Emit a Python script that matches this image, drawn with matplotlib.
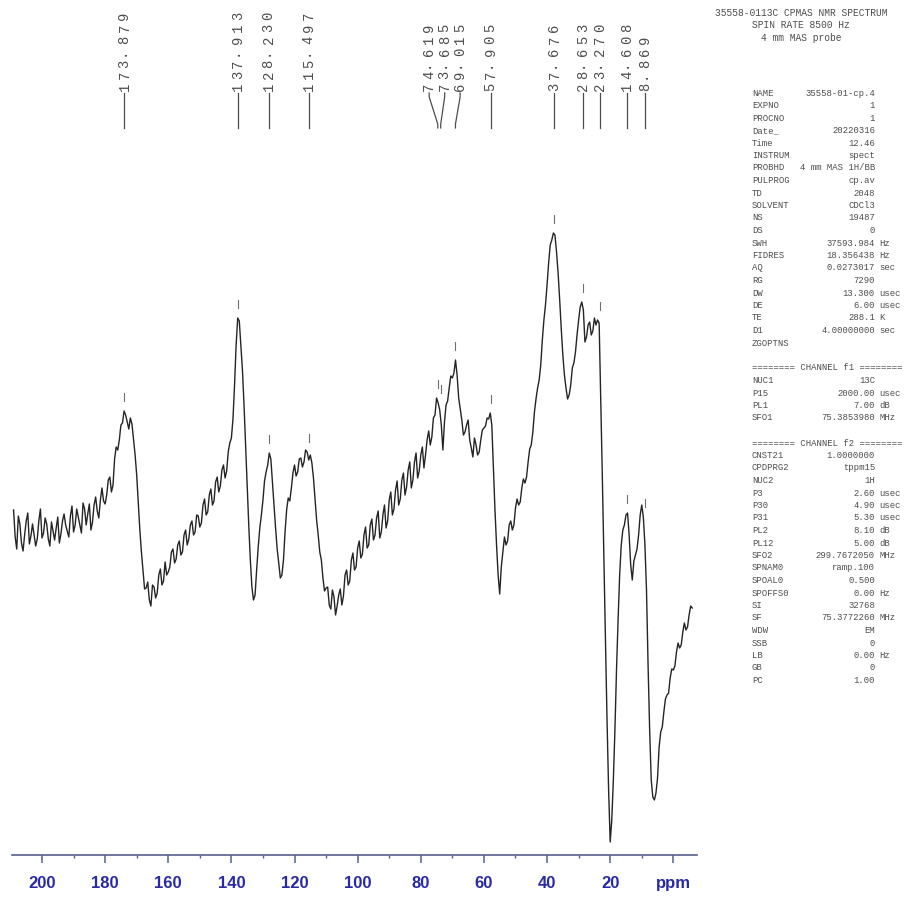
import numpy as np
import matplotlib
matplotlib.use("Agg")
import matplotlib.pyplot as plt
from matplotlib import transforms

# 13C CPMAS trace: values on whole ppm (209 .. -6) and on the half ppm
# points in between (208.5 .. -5.5)
intensity = [
    34.5, 30.6, 33.1, 30.4, 33.4, 31.1, 33.1, 30.9, 33.4, 31.7,   # 209..200
    33.7, 31.6, 33.3, 31.5, 33.8, 32.1, 34.1, 32.4, 33.9, 32.3,   # 199..190
    34.6, 33.0, 35.2, 33.0, 35.1, 33.3, 35.8, 33.7, 36.7, 35.1,   # 189..180
    37.5, 36.3, 39.6, 40.5, 43.0, 44.4, 43.3, 43.7, 41.5, 38.0,   # 179..170
    32.5, 28.5, 26.7, 25.5, 27.0, 25.7, 28.0, 27.0, 29.3, 28.3,   # 169..160
    30.3, 29.2, 31.0, 30.0, 32.0, 31.0, 33.0, 32.0, 34.0, 32.8,   # 159..150
    35.0, 34.0, 36.0, 35.0, 37.3, 36.3, 38.5, 37.7, 40.3, 41.7,   # 149..140
    47.0, 53.7, 51.0, 45.0, 37.0, 29.5, 25.5, 28.5, 32.7, 35.5,   # 139..130
    38.3, 40.2, 37.3, 32.7, 29.2, 28.0, 32.3, 35.7, 36.7, 39.0,   # 129..120
    38.3, 39.7, 39.3, 40.3, 40.0, 37.7, 33.5, 30.3, 27.7, 26.7,   # 119..110
    25.0, 26.5, 24.0, 26.0, 25.0, 28.0, 27.0, 29.5, 28.5, 30.7,   # 109..100
    29.7, 32.0, 30.7, 33.0, 31.5, 33.7, 31.7, 34.0, 32.7, 35.5,   # 99..90
    34.0, 36.5, 35.0, 37.5, 36.0, 38.5, 36.7, 39.3, 37.7, 40.0,   # 89..80
    38.7, 41.5, 41.0, 43.7, 45.7, 44.5, 40.5, 45.0, 46.7, 47.7,   # 79..70
    49.5, 45.7, 43.5, 42.3, 43.5, 40.7, 41.7, 40.0, 41.5, 42.7,   # 69..60
    43.7, 44.2, 38.7, 31.0, 26.1, 30.3, 31.0, 33.0, 32.5, 34.7,   # 59..50
    35.0, 36.7, 37.2, 39.3, 41.0, 44.3, 46.7, 49.0, 53.5, 57.0,   # 49..40
    61.0, 62.2, 60.3, 55.5, 50.0, 46.7, 46.0, 48.7, 50.3, 53.5,   # 39..30
    55.3, 51.3, 53.0, 52.0, 53.7, 53.5, 45.5, 29.5, 13.5, 1.3,    # 29..20
    7.5, 18.5, 28.0, 32.5, 34.0, 32.0, 27.5, 30.0, 32.0, 35.0,    # 19..10
    31.0, 19.0, 7.5, 5.5, 7.7, 12.3, 14.3, 16.0, 17.7, 18.5,      # 9..0
    20.3, 20.7, 22.3, 22.5, 24.0, 24.7,                           # -1..-6
]
intensity_half = [
    31.8, 33.9, 31.2, 32.0, 34.2, 31.9, 32.0, 31.6, 34.6, 32.2,   # 208.5..199.5
    33.1, 30.9, 32.4, 32.7, 31.2, 33.4, 33.0, 31.8, 34.9, 33.0,   # 198.5..189.5
    33.8, 32.2, 34.6, 34.1, 32.5, 35.0, 34.4, 35.5, 35.4, 36.0,   # 188.5..179.5
    37.8, 37.0, 40.8, 41.5, 43.2, 44.0, 42.6, 43.1, 40.0, 35.3,   # 178.5..169.5
    30.3, 26.6, 27.3, 24.9, 26.8, 26.2, 28.6, 27.4, 28.0, 28.8,   # 168.5..159.5
    30.6, 29.6, 31.4, 30.3, 32.5, 31.6, 33.4, 32.3, 33.9, 33.2,   # 158.5..149.5
    35.6, 34.3, 36.6, 35.4, 37.8, 36.9, 39.0, 38.4, 41.2, 43.6,   # 148.5..139.5
    51.0, 53.4, 48.5, 41.0, 33.0, 26.8, 26.0, 30.8, 34.0, 37.4,   # 138.5..129.5
    39.0, 39.6, 35.0, 30.6, 27.7, 29.5, 34.5, 35.4, 38.2, 37.9,   # 128.5..119.5
    39.6, 38.8, 40.5, 39.5, 39.2, 35.6, 32.0, 29.5, 26.4, 26.8,   # 118.5..109.5
    24.6, 25.8, 24.9, 26.6, 25.9, 28.5, 27.4, 30.2, 28.8, 31.4,   # 108.5..99.5
    30.1, 32.8, 31.0, 33.6, 32.0, 34.4, 32.3, 35.0, 33.4, 36.3,   # 98.5..89.5
    34.6, 37.4, 35.6, 38.2, 36.8, 39.3, 37.5, 40.2, 38.4, 40.8,   # 88.5..79.5
    40.0, 42.4, 41.8, 44.0, 45.2, 43.0, 43.3, 45.4, 47.9, 48.2,   # 78.5..69.5
    48.0, 44.6, 42.0, 43.0, 41.5, 39.8, 41.0, 40.3, 42.5, 42.9,   # 68.5..59.5
    43.6, 43.0, 34.5, 28.0, 28.8, 31.8, 31.4, 33.4, 33.0, 35.6,   # 58.5..49.5
    35.3, 37.6, 37.8, 40.6, 42.3, 45.6, 47.5, 51.5, 55.0, 59.2,   # 48.5..39.5
    61.5, 62.0, 58.2, 52.6, 48.0, 45.6, 47.0, 49.2, 52.0, 54.8,   # 38.5..29.5
    54.5, 51.8, 53.3, 52.4, 53.0, 53.2, 38.0, 21.5, 6.5, 3.5,     # 28.5..19.5
    12.5, 23.5, 31.0, 33.0, 34.2, 29.0, 29.4, 30.6, 34.0, 33.8,   # 18.5..9.5
    26.5, 12.5, 5.8, 6.2, 10.8, 12.8, 15.6, 16.2, 18.6, 18.9,     # 8.5..-0.5
    21.2, 21.0, 23.2, 22.8, 24.9,                                 # -1.5..-5.5
]

peak_shifts = [173.879, 137.913, 128.230, 115.497, 74.619, 73.685, 69.015,
               57.905, 37.676, 28.653, 23.270, 14.608, 8.869]

axis_ticks = [200, 180, 160, 140, 120, 100, 80, 60, 40, 20, 0]
axis_labels = ["200", "180", "160", "140", "120", "100", "80", "60", "40", "20", "ppm"]

header_lines = ["35558-0113C CPMAS NMR SPECTRUM", "SPIN RATE 8500 Hz", "4 mm MAS probe"]

param_names = [
    "NAME", "EXPNO", "PROCNO", "Date_", "Time", "INSTRUM", "PROBHD", "PULPROG",
    "TD", "SOLVENT", "NS", "DS", "SWH", "FIDRES", "AQ", "RG", "DW", "DE", "TE",
    "D1", "ZGOPTNS", "",
    "======== CHANNEL f1 ========", "NUC1", "P15", "PL1", "SFO1", "",
    "======== CHANNEL f2 ========", "CNST21", "CPDPRG2", "NUC2", "P3", "P30",
    "P31", "PL2", "PL12", "SFO2", "SPNAM0", "SPOAL0", "SPOFFS0", "SI", "SF",
    "WDW", "SSB", "LB", "GB", "PC",
]
param_values = [
    "35558-01-cp.4", "1", "1", "20220316", "12.46", "spect", "4 mm MAS 1H/BB",
    "cp.av", "2048", "CDCl3", "19487", "0", "37593.984", "18.356438",
    "0.0273017", "7290", "13.300", "6.00", "288.1", "4.00000000", "", "",
    "", "13C", "2000.00", "7.00", "75.3853980", "",
    "", "1.0000000", "tppm15", "1H", "2.60", "4.90", "5.30", "8.10", "5.00",
    "299.7672050", "ramp.100", "0.500", "0.00", "32768", "75.3772260", "EM",
    "0", "0.00", "0", "1.00",
]
param_units = [
    "", "", "", "", "", "", "", "", "", "", "", "", "Hz", "Hz", "sec", "",
    "usec", "usec", "K", "sec", "", "",
    "", "", "usec", "dB", "MHz", "",
    "", "", "", "", "usec", "usec", "usec", "dB", "dB", "MHz", "", "", "Hz",
    "", "MHz", "", "", "Hz", "", "",
]

W, H = 907, 900
MONO = "Liberation Mono"
TEXT_GREY = "#4d4d4d"
AXIS_COL = "#56618c"


def spread_labels(shifts, gap):
    # push crowded peak labels apart, keeping each group centred on its peaks
    pos = list(shifts)
    while True:
        groups = [[0]]
        for i in range(1, len(pos)):
            if pos[i - 1] - pos[i] < gap - 1e-6:
                groups[-1].append(i)
            else:
                groups.append([i])
        new = list(pos)
        for g in groups:
            if len(g) > 1:
                mid = np.mean([shifts[i] for i in g])
                for k, i in enumerate(g):
                    new[i] = mid + ((len(g) - 1) / 2 - k) * gap
        if np.allclose(new, pos):
            return new
        pos = new


# merge whole and half ppm points into one trace
shift = np.arange(209, -6.25, -0.5)
trace = np.empty(len(shift))
trace[0::2] = intensity
trace[1::2] = intensity_half

fig = plt.figure(figsize=(W / 100, H / 100), dpi=100)
ax = fig.add_axes([12 / W, 45 / H, 685 / W, 715 / H])
ax.plot(shift, trace, color="#242424", lw=1.0)
ax.set_xlim(209.5, -7.5)
ax.set_ylim(0, 71.5)

for side in ["top", "left", "right"]:
    ax.spines[side].set_visible(False)
ax.spines["bottom"].set_color(AXIS_COL)
ax.spines["bottom"].set_linewidth(1.2)
ax.set_yticks([])
ax.set_xticks(axis_ticks)
ax.set_xticklabels(axis_labels, fontweight="bold", family="Liberation Sans")
ax.set_xticks(np.arange(190, 0, -20), minor=True)
ax.tick_params(axis="x", which="major", length=6, width=1.1, color=AXIS_COL,
               pad=9, labelsize=12, labelcolor="#2828a8")
ax.tick_params(axis="x", which="minor", length=2.5, width=1.0, color=AXIS_COL)

# peak picking: small marks above each peak
for p in peak_shifts:
    top = trace[np.abs(shift - p) <= 1].max()
    ax.plot([p, p], [top + 1.0, top + 1.8], color="#707070", lw=0.8)

# peak labels across the top, rotated, with leader lines
blend = transforms.blended_transform_factory(ax.transData, fig.transFigure)
dot_shift = transforms.offset_copy(blend, fig=fig, x=-4.2, units="dots")
label_pos = spread_labels(peak_shifts, 4.9)
pitch = 11.8
base = 93
for p, lx in zip(peak_shifts, label_pos):
    txt = f"{p:.3f}"
    for i, ch in enumerate(txt):
        ax.text(lx, 1 - (base - (i + 0.5) * pitch) / H, ch,
                transform=dot_shift if ch == "." else blend,
                rotation=90, ha="center", va="center", fontsize=10,
                family=MONO, color=TEXT_GREY)
    ax.plot([lx, lx, p, p],
            [1 - base / H, 1 - (base + 4) / H, 1 - 124 / H, 1 - 128 / H],
            transform=blend, clip_on=False, color=TEXT_GREY, lw=0.9)

# acquisition / processing parameters
for k, line in enumerate(header_lines):
    fig.text(801 / W, 1 - (13 + 12.5 * k) / H, line, ha="center", va="center",
             fontsize=6.9, family=MONO, color=TEXT_GREY)

for k, (name, value, unit) in enumerate(zip(param_names, param_values, param_units)):
    y = 1 - (93 + 12.5 * k) / H
    fig.text(752 / W, y, name, ha="left", va="center", fontsize=6.4,
             family=MONO, color=TEXT_GREY)
    if value:
        fig.text(875 / W, y, value, ha="right", va="center", fontsize=6.4,
                 family=MONO, color=TEXT_GREY)
    if unit:
        fig.text(879 / W, y, unit, ha="left", va="center", fontsize=6.4,
                 family=MONO, color=TEXT_GREY)

fig.savefig("out.png", dpi=100, facecolor="white")
